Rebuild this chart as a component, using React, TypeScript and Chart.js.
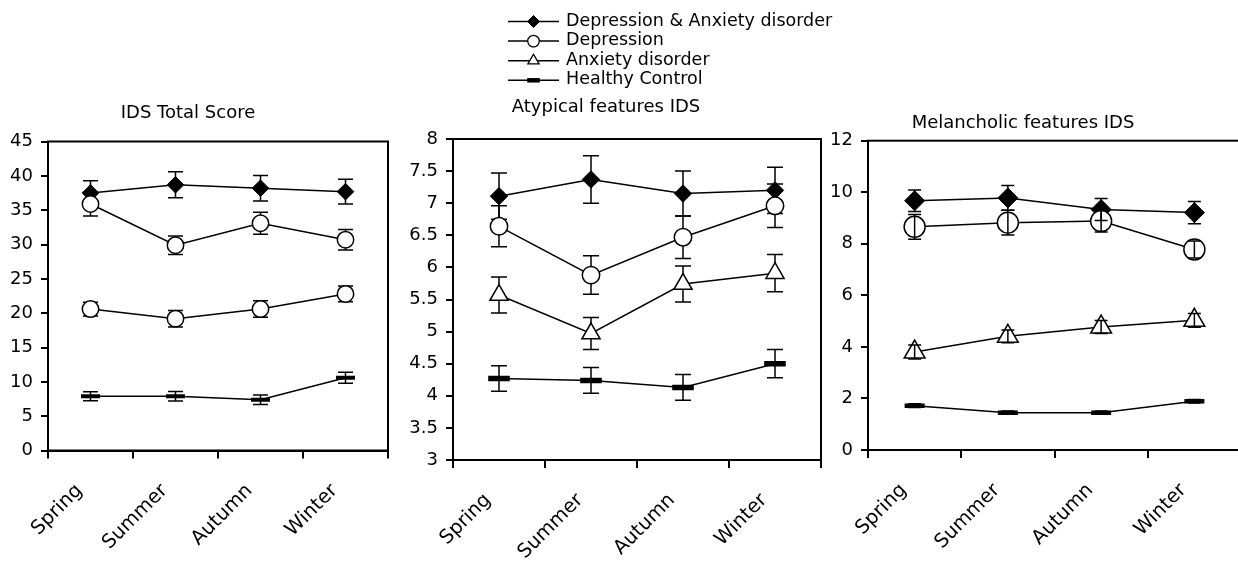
import React, { useEffect, useRef } from 'react';
import { Chart, registerables } from 'chart.js';

Chart.register(...registerables);

const seasons = ['Spring', 'Summer', 'Autumn', 'Winter'];
const groupNames = ['Depression & Anxiety disorder', 'Depression', 'Anxiety disorder', 'Healthy Control'];

// IDS Total Score
const totalDepAnx = [37.5, 38.7, 38.2, 37.7];
const totalDepAnxSE = [1.8, 1.9, 1.85, 1.8];
const totalDep = [35.9, 29.9, 33.1, 30.7];
const totalDepSE = [1.75, 1.35, 1.6, 1.5];
const totalAnx = [20.6, 19.2, 20.6, 22.8];
const totalAnxSE = [1.0, 1.2, 1.2, 1.15];
const totalHC = [7.9, 7.9, 7.4, 10.6];
const totalHCSE = [0.65, 0.7, 0.7, 0.8];

// Atypical features IDS
const atypDepAnx = [7.11, 7.37, 7.15, 7.2];
const atypDepAnxSE = [0.36, 0.37, 0.35, 0.36];
const atypDep = [6.64, 5.88, 6.47, 6.96];
const atypDepSE = [0.32, 0.3, 0.33, 0.34];
const atypAnx = [5.57, 4.97, 5.74, 5.91];
const atypAnxSE = [0.28, 0.25, 0.28, 0.29];
const atypHC = [4.27, 4.24, 4.13, 4.5];
const atypHCSE = [0.2, 0.2, 0.2, 0.22];

// Melancholic features IDS
const melDepAnx = [9.67, 9.78, 9.33, 9.21];
const melDepAnxSE = [0.42, 0.48, 0.43, 0.43];
const melDep = [8.66, 8.82, 8.88, 7.78];
const melDepSE = [0.48, 0.48, 0.42, 0.33];
const melAnx = [3.8, 4.41, 4.77, 5.03];
const melAnxSE = [0.27, 0.25, 0.25, 0.27];
const melHC = [1.72, 1.45, 1.45, 1.89];
const melHCSE = [0.07, 0.06, 0.06, 0.07];

// y-axis tick ranges
const totalAxis = { min: 0, max: 45, step: 5 };
const atypAxis = { min: 3, max: 8, step: 0.5 };
const melAxis = { min: 0, max: 12, step: 2 };

const FONT = "'DejaVu Sans', 'Liberation Sans', sans-serif";

type Marker = { style: string; r: number; fill: string; bw: number };

type PanelCfg = {
  title: string;
  values: number[][];
  errors: number[][];
  axis: { min: number; max: number; step: number };
  box: { left: number; top: number; width: number; height: number };
  yAxisWidth: number;
  xAxisHeight: number;
  padRight: number;
  titlePad: { top: number; bottom: number };
  markers: Marker[];
  cap: number;
  barsOnTop: boolean;
  legend: boolean;
};

const panels: PanelCfg[] = [
  {
    title: 'IDS Total Score',
    values: [totalDepAnx, totalDep, totalAnx, totalHC],
    errors: [totalDepAnxSE, totalDepSE, totalAnxSE, totalHCSE],
    axis: totalAxis,
    box: { left: -12, top: 0, width: 404, height: 562 },
    yAxisWidth: 60,
    xAxisHeight: 111.5,
    padRight: 4,
    titlePad: { top: 102.2, bottom: 17.7 },
    markers: [
      { style: 'rectRot', r: 8.3, fill: '#000', bw: 1 },
      { style: 'circle', r: 8.2, fill: '#fff', bw: 1.5 },
      { style: 'circle', r: 8.2, fill: '#fff', bw: 1.5 },
      { style: 'line', r: 9.5, fill: '#000', bw: 4 },
    ],
    cap: 15,
    barsOnTop: false,
    legend: false,
  },
  {
    title: 'Atypical features IDS',
    values: [atypDepAnx, atypDep, atypAnx, atypHC],
    errors: [atypDepAnxSE, atypDepSE, atypAnxSE, atypHCSE],
    axis: atypAxis,
    box: { left: 391, top: 0, width: 450, height: 562 },
    yAxisWidth: 62,
    xAxisHeight: 102,
    padRight: 20,
    titlePad: { top: 96.2, bottom: 21.2 },
    markers: [
      { style: 'rectRot', r: 8.7, fill: '#000', bw: 1 },
      { style: 'circle', r: 8.7, fill: '#fff', bw: 1.5 },
      { style: 'triangle', r: 10.5, fill: '#fff', bw: 1.5 },
      { style: 'line', r: 10.8, fill: '#000', bw: 5.5 },
    ],
    cap: 16,
    barsOnTop: false,
    legend: true,
  },
  {
    title: 'Melancholic features IDS',
    values: [melDepAnx, melDep, melAnx, melHC],
    errors: [melDepAnxSE, melDepSE, melAnxSE, melHCSE],
    axis: melAxis,
    box: { left: 805, top: 0, width: 440, height: 562 },
    yAxisWidth: 63,
    xAxisHeight: 112,
    padRight: 4,
    titlePad: { top: 112.5, bottom: 6.6 },
    markers: [
      { style: 'rectRot', r: 10, fill: '#000', bw: 1 },
      { style: 'circle', r: 10.5, fill: '#fff', bw: 1.5 },
      { style: 'triangle', r: 12, fill: '#fff', bw: 1.5 },
      { style: 'line', r: 10, fill: '#000', bw: 4.5 },
    ],
    cap: 13,
    barsOnTop: true,
    legend: false,
  },
];

const legendMarkers: Marker[] = [
  { style: 'rectRot', r: 6, fill: '#000', bw: 1 },
  { style: 'circle', r: 5.8, fill: '#fff', bw: 1.3 },
  { style: 'triangle', r: 6.5, fill: '#fff', bw: 1.3 },
  { style: 'line', r: 6.3, fill: '#000', bw: 4.5 },
];

function drawMarker(ctx: CanvasRenderingContext2D, m: Marker, x: number, y: number) {
  ctx.save();
  ctx.strokeStyle = '#000';
  ctx.fillStyle = m.fill;
  ctx.lineWidth = m.bw;
  ctx.beginPath();
  if (m.style === 'circle') {
    ctx.arc(x, y, m.r, 0, Math.PI * 2);
    ctx.fill();
    ctx.stroke();
  } else if (m.style === 'rectRot') {
    ctx.moveTo(x - m.r, y);
    ctx.lineTo(x, y - m.r);
    ctx.lineTo(x + m.r, y);
    ctx.lineTo(x, y + m.r);
    ctx.closePath();
    ctx.fill();
    ctx.stroke();
  } else if (m.style === 'triangle') {
    const a = Math.PI * 2 / 3;
    ctx.moveTo(x, y - m.r);
    ctx.lineTo(x + Math.sin(a) * m.r, y - Math.cos(a) * m.r);
    ctx.lineTo(x + Math.sin(2 * a) * m.r, y - Math.cos(2 * a) * m.r);
    ctx.closePath();
    ctx.fill();
    ctx.stroke();
  } else {
    ctx.moveTo(x - m.r, y);
    ctx.lineTo(x + m.r, y);
    ctx.stroke();
  }
  ctx.restore();
}

function makePlugins(cfg: PanelCfg) {
  const drawBars = (chart: any) => {
    const ctx = chart.ctx as CanvasRenderingContext2D;
    const yScale = chart.scales.y;
    ctx.save();
    ctx.strokeStyle = '#000';
    ctx.lineWidth = 1.5;
    chart.data.datasets.forEach((ds: any, i: number) => {
      const meta = chart.getDatasetMeta(i);
      const errs: number[] = ds.errorBars || [];
      meta.data.forEach((pt: any, j: number) => {
        const v = ds.data[j] as number;
        const e = errs[j] || 0;
        const x = pt.x;
        const yt = yScale.getPixelForValue(v + e);
        const yb = yScale.getPixelForValue(v - e);
        const h = cfg.cap / 2;
        ctx.beginPath();
        ctx.moveTo(x, yt);
        ctx.lineTo(x, yb);
        ctx.moveTo(x - h, yt);
        ctx.lineTo(x + h, yt);
        ctx.moveTo(x - h, yb);
        ctx.lineTo(x + h, yb);
        ctx.stroke();
      });
    });
    ctx.restore();
  };

  const errorBars = {
    id: 'errorBars',
    beforeDatasetsDraw(chart: any) {
      if (!cfg.barsOnTop) drawBars(chart);
    },
    afterDatasetsDraw(chart: any) {
      if (cfg.barsOnTop) drawBars(chart);
    },
  };

  const frame = {
    id: 'frame',
    beforeDatasetsDraw(chart: any) {
      const { left, top, width, height } = chart.chartArea;
      const ctx = chart.ctx as CanvasRenderingContext2D;
      ctx.save();
      ctx.strokeStyle = '#000';
      ctx.lineWidth = 2;
      ctx.strokeRect(left, top, width, height);
      ctx.restore();
    },
  };

  const legend = {
    id: 'seriesLegend',
    afterDraw(chart: any) {
      if (!cfg.legend) return;
      const ctx = chart.ctx as CanvasRenderingContext2D;
      const x0 = chart.chartArea.left + 55;
      const lineLen = 51;
      ctx.save();
      ctx.font = `17.5px ${FONT}`;
      ctx.textBaseline = 'middle';
      ctx.textAlign = 'left';
      ctx.fillStyle = '#000';
      groupNames.forEach((name, i) => {
        const y = 21.5 + i * 19.6;
        ctx.strokeStyle = '#000';
        ctx.lineWidth = 1.5;
        ctx.beginPath();
        ctx.moveTo(x0, y);
        ctx.lineTo(x0 + lineLen, y);
        ctx.stroke();
        drawMarker(ctx, legendMarkers[i], x0 + lineLen / 2, y);
        ctx.fillStyle = '#000';
        ctx.fillText(name, x0 + lineLen + 7, y - 0.5);
      });
      ctx.restore();
    },
  };

  return [frame, errorBars, legend];
}

function Panel({ cfg }: { cfg: PanelCfg }) {
  const ref = useRef<HTMLCanvasElement>(null);
  useEffect(() => {
    if (!ref.current) return;
    const chart = new Chart(ref.current, {
      type: 'line',
      data: {
        labels: seasons,
        datasets: cfg.values.map((vals, i) => ({
          label: groupNames[i],
          data: vals,
          errorBars: cfg.errors[i],
          borderColor: '#000',
          borderWidth: 1.5,
          pointStyle: cfg.markers[i].style,
          pointRadius: cfg.markers[i].r,
          pointHoverRadius: cfg.markers[i].r,
          pointBackgroundColor: cfg.markers[i].fill,
          pointBorderColor: '#000',
          pointBorderWidth: cfg.markers[i].bw,
          fill: false,
          tension: 0,
          order: 3 - i,
        })) as any,
      },
      options: {
        responsive: false,
        animation: false,
        devicePixelRatio: 1,
        events: [],
        layout: {
          autoPadding: false,
          padding: { left: 0, right: cfg.padRight, top: 0, bottom: 0 },
        },
        plugins: {
          legend: { display: false },
          tooltip: { enabled: false },
          title: {
            display: true,
            text: cfg.title,
            color: '#000',
            font: { family: FONT, size: 18, weight: 'normal' },
            padding: { top: cfg.titlePad.top, bottom: cfg.titlePad.bottom },
          },
        },
        scales: {
          x: {
            type: 'category',
            offset: true,
            afterFit: (s: any) => {
              s.height = cfg.xAxisHeight;
              s.paddingLeft = 0;
              s.paddingRight = 0;
            },
            grid: {
              offset: true,
              drawOnChartArea: false,
              drawTicks: true,
              tickLength: 8,
              color: '#000',
              lineWidth: 2,
            },
            border: { display: true, color: '#000', width: 2 },
            ticks: {
              color: '#000',
              font: { family: FONT, size: 19.5 },
              minRotation: 45,
              maxRotation: 45,
              autoSkip: false,
              padding: 21,
              labelOffset: -11,
            },
          },
          y: {
            type: 'linear',
            min: cfg.axis.min,
            max: cfg.axis.max,
            afterFit: (s: any) => {
              s.width = cfg.yAxisWidth;
            },
            grid: {
              drawOnChartArea: false,
              drawTicks: true,
              tickLength: 7,
              color: '#000',
              lineWidth: 2,
            },
            border: { display: true, color: '#000', width: 2 },
            ticks: {
              stepSize: cfg.axis.step,
              color: '#000',
              font: { family: FONT, size: 18 },
              padding: 8,
              callback: (v: any) => String(Number(v)),
            },
          },
        },
      } as any,
      plugins: makePlugins(cfg) as any,
    });
    return () => chart.destroy();
  }, [cfg]);
  return (
    <canvas
      ref={ref}
      width={cfg.box.width}
      height={cfg.box.height}
      style={{
        position: 'absolute',
        left: cfg.box.left,
        top: cfg.box.top,
        width: cfg.box.width,
        height: cfg.box.height,
      }}
    />
  );
}

export default function App() {
  return (
    <div
      style={{
        position: 'absolute',
        left: 0,
        top: 0,
        width: 1238,
        height: 562,
        overflow: 'hidden',
        background: '#fff',
      }}
    >
      {panels.map((p) => (
        <Panel key={p.title} cfg={p} />
      ))}
    </div>
  );
}
